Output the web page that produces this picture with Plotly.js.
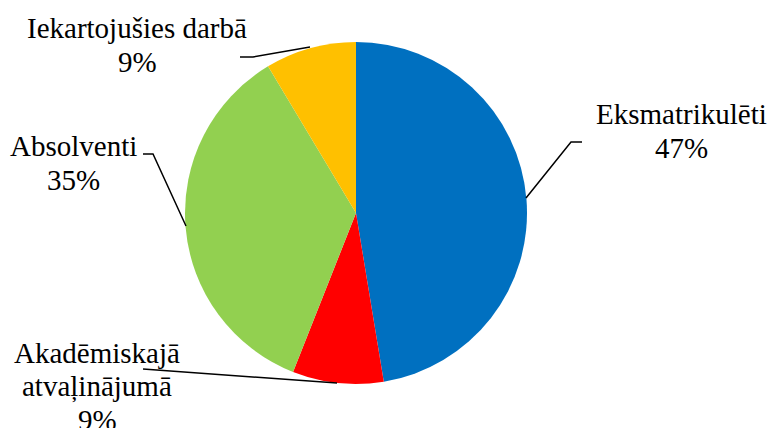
<!DOCTYPE html>
<html>
<head>
<meta charset="utf-8">
<script src="https://cdn.plot.ly/plotly-3.0.1.min.js"></script>
<style>html,body{margin:0;padding:0;background:#fff;}#chart{width:768px;height:428px;}</style>
</head>
<body>
<div id="chart"></div>
<script>
// Data
const categories = ["Eksmatrikulēti", "Akadēmiskajā atvaļinājumā", "Absolventi", "Iekartojušies darbā"];
const values = [47.4, 8.6, 35.4, 8.6];
const colors = ["#0070C0", "#FF0000", "#92D050", "#FFC000"];
// How each label is broken into lines
const labelLines = [["Eksmatrikulēti"], ["Akadēmiskajā", "atvaļinājumā"], ["Absolventi"], ["Iekartojušies darbā"]];

const W = 768, H = 428;
const px = x => x / W;
const py = y => 1 - y / H;

// label placement: centre x and first-line baseline (pixels)
const labelPos = [[681, 123], [97, 362], [73, 155], [137, 37]];
const lineGap = 33.5;
const fontSize = 29;
const leaders = [
  [[582,142],[571,142],[526,198]],
  [[143,369],[337,383]],
  [[143,154],[153,154],[186,226]],
  [[240,57],[253,57],[310,47]]
];

const trace = {
  type: "pie",
  labels: categories,
  values: values,
  sort: false,
  direction: "clockwise",
  rotation: 0,
  textinfo: "none",
  hoverinfo: "none",
  marker: {colors: colors, line: {width: 0}},
  domain: {x: [px(185), px(527)], y: [py(384), py(42)]},
  showlegend: false
};

const total = values.reduce((a,b)=>a+b,0);
const annotations = [];
categories.forEach((c,i)=>{
  const lines = labelLines[i].concat([Math.round(values[i]/total*100) + "%"]);
  lines.forEach((t,k)=>{
    const base = labelPos[i][1] + k*lineGap;
    annotations.push({
      xref: "paper", yref: "paper",
      x: px(labelPos[i][0]), y: py(base - fontSize*0.3),
      xanchor: "center", yanchor: "middle",
      text: t,
      showarrow: false,
      font: {family: "Liberation Serif, Times New Roman, serif", size: fontSize, color: "#000"}
    });
  });
});

const shapes = leaders.map(pts=>({
  type: "path",
  xref: "paper", yref: "paper",
  path: pts.map((p,k)=>(k?"L":"M")+px(p[0])+","+py(p[1])).join(" "),
  line: {color: "#000", width: 1.5}
}));

const layout = {
  width: W, height: H,
  margin: {l:0, r:0, t:0, b:0},
  paper_bgcolor: "#fff",
  font: {family: "Liberation Serif, Times New Roman, serif"},
  annotations: annotations,
  shapes: shapes
};
Plotly.newPlot("chart", [trace], layout, {displayModeBar:false, staticPlot:true});
</script>
</body>
</html>
